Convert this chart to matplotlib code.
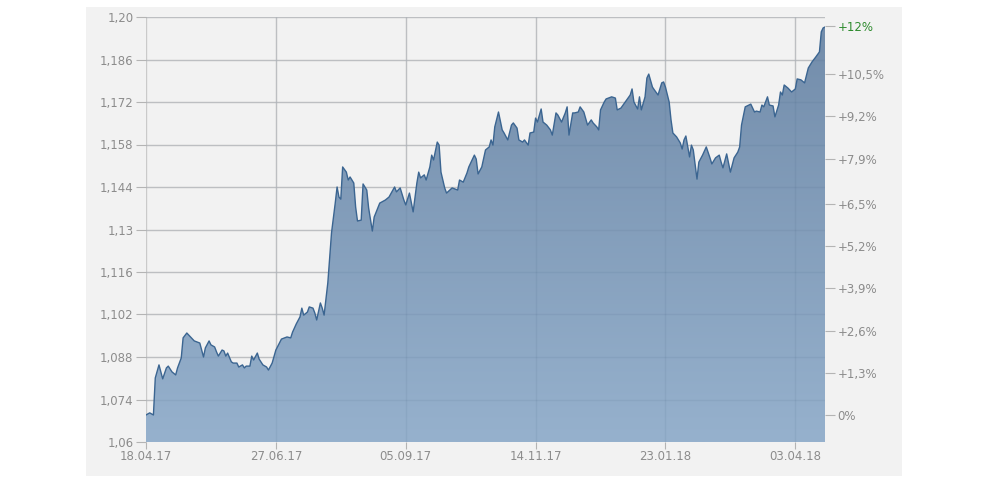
import numpy as np
import pandas as pd
import matplotlib
matplotlib.use("Agg")
import matplotlib.pyplot as plt
import matplotlib.dates as mdates
from matplotlib.patches import Rectangle

# data (days since 18.04.17, price)
start = pd.Timestamp("2017-04-18")
day_offset = [0, 2, 4, 5, 7, 8, 9, 11, 12, 14, 16, 17, 19, 20, 22, 24, 26, 29, 31, 32,
              34, 35, 37, 38, 39, 41, 42, 43, 44, 46, 47, 49, 50, 52, 53, 54, 56, 57, 58, 60,
              61, 63, 65, 66, 68, 70, 73, 76, 78, 79, 81, 83, 84, 85, 87, 88, 90, 91, 92, 94,
              95, 96, 98, 100, 102, 103, 104, 105, 106, 108, 109, 110, 112, 113, 114, 116, 117, 119, 120, 122,
              123, 126, 129, 131, 134, 135, 137, 139, 140, 142, 144, 146, 147, 148, 150, 151, 153, 154, 155, 157,
              158, 159, 161, 162, 165, 168, 169, 171, 173, 174, 177, 178, 179, 181, 183, 185, 186, 187, 188, 190,
              192, 193, 195, 197, 198, 200, 201, 203, 204, 206, 207, 209, 210, 211, 213, 214, 216, 218, 219, 221,
              222, 224, 226, 227, 228, 230, 231, 233, 234, 236, 238, 240, 241, 243, 244, 245, 247, 248, 251, 253,
              254, 256, 258, 261, 262, 263, 265, 266, 267, 269, 270, 271, 273, 274, 276, 278, 279, 280, 282, 283,
              284, 286, 288, 289, 290, 291, 293, 294, 295, 297, 298, 300, 302, 304, 305, 307, 309, 310, 311, 313,
              315, 317, 319, 320, 321, 323, 326, 328, 329, 331, 332, 333, 335, 336, 338, 339, 341, 342, 343, 344,
              346, 348, 350, 351, 353, 355, 357, 359, 361, 363, 364, 365, 366]
price = [1.0689, 1.0696, 1.0689, 1.0811, 1.0854, 1.0831, 1.0808, 1.0844, 1.0850, 1.0831,
         1.0821, 1.0844, 1.0877, 1.0943, 1.0959, 1.0946, 1.0933, 1.0926, 1.0880, 1.0910,
         1.0933, 1.0920, 1.0913, 1.0897, 1.0883, 1.0903, 1.0900, 1.0883, 1.0893, 1.0864,
         1.0860, 1.0860, 1.0847, 1.0854, 1.0844, 1.0850, 1.0850, 1.0883, 1.0870, 1.0893,
         1.0873, 1.0854, 1.0847, 1.0837, 1.0860, 1.0903, 1.0939, 1.0946, 1.0943, 1.0962,
         1.0989, 1.1012, 1.1041, 1.1018, 1.1028, 1.1045, 1.1041, 1.1025, 1.1002, 1.1058,
         1.1041, 1.1018, 1.1124, 1.1289, 1.1387, 1.1440, 1.1407, 1.1400, 1.1506, 1.1489,
         1.1463, 1.1473, 1.1453, 1.1374, 1.1328, 1.1331, 1.1450, 1.1430, 1.1371, 1.1295,
         1.1341, 1.1387, 1.1397, 1.1407, 1.1440, 1.1424, 1.1437, 1.1397, 1.1381, 1.1420,
         1.1358, 1.1453, 1.1489, 1.1470, 1.1480, 1.1463, 1.1506, 1.1545, 1.1529, 1.1588,
         1.1578, 1.1489, 1.1437, 1.1420, 1.1437, 1.1430, 1.1463, 1.1456, 1.1486, 1.1506,
         1.1545, 1.1532, 1.1483, 1.1506, 1.1562, 1.1572, 1.1595, 1.1578, 1.1638, 1.1687,
         1.1628, 1.1618, 1.1595, 1.1644, 1.1651, 1.1634, 1.1595, 1.1588, 1.1595, 1.1578,
         1.1618, 1.1621, 1.1667, 1.1654, 1.1697, 1.1654, 1.1644, 1.1628, 1.1611, 1.1684,
         1.1677, 1.1654, 1.1684, 1.1704, 1.1611, 1.1684, 1.1684, 1.1687, 1.1704, 1.1687,
         1.1644, 1.1661, 1.1651, 1.1638, 1.1628, 1.1694, 1.1720, 1.1730, 1.1737, 1.1733,
         1.1694, 1.1700, 1.1717, 1.1743, 1.1763, 1.1720, 1.1697, 1.1737, 1.1694, 1.1737,
         1.1799, 1.1812, 1.1769, 1.1760, 1.1743, 1.1783, 1.1786, 1.1769, 1.1720, 1.1661,
         1.1618, 1.1605, 1.1585, 1.1565, 1.1595, 1.1608, 1.1539, 1.1578, 1.1562, 1.1466,
         1.1522, 1.1545, 1.1572, 1.1536, 1.1516, 1.1536, 1.1545, 1.1522, 1.1503, 1.1549,
         1.1489, 1.1536, 1.1555, 1.1572, 1.1644, 1.1704, 1.1713, 1.1687, 1.1690, 1.1687,
         1.1710, 1.1704, 1.1737, 1.1710, 1.1707, 1.1671, 1.1710, 1.1753, 1.1743, 1.1776,
         1.1766, 1.1753, 1.1763, 1.1796, 1.1793, 1.1783, 1.1832, 1.1852, 1.1868, 1.1885,
         1.1951, 1.1964, 1.1967]

date_ticks = ["2017-04-18", "2017-06-27", "2017-09-05", "2017-11-14", "2018-01-23", "2018-04-03"]
date_labels = ["18.04.17", "27.06.17", "05.09.17", "14.11.17", "23.01.18", "03.04.18"]
price_ticks = [1.06, 1.074, 1.088, 1.102, 1.116, 1.13, 1.144, 1.158, 1.172, 1.186, 1.20]
price_labels = ["1,06", "1,074", "1,088", "1,102", "1,116", "1,13", "1,144", "1,158",
                "1,172", "1,186", "1,20"]
pct_ticks = [0, 1.3, 2.6, 3.9, 5.2, 6.5, 7.9, 9.2, 10.5, 12]
pct_labels = ["0%", "+1,3%", "+2,6%", "+3,9%", "+5,2%", "+6,5%", "+7,9%", "+9,2%",
              "+10,5%", "+12%"]

dates = start + pd.to_timedelta(day_offset, unit="D")
x = mdates.date2num(dates.to_pydatetime())
y = np.array(price)
base = price[0]

txt = "#8c8c8c"
grid_c = "#cacaca"

fig = plt.figure(figsize=(10, 5), dpi=100)
fig.patches.append(Rectangle((0.086, 0.048), 0.816, 0.938, transform=fig.transFigure,
                             facecolor="#f2f2f2", edgecolor="none", zorder=-5))
ax = fig.add_axes([0.146, 0.116, 0.679, 0.85])
ax.set_facecolor("none")

ymin, ymax = 1.06, 1.20
ax.set_xlim(x[0], x[-1])
ax.set_ylim(ymin, ymax)

# grid below
for t in price_ticks:
    ax.axhline(t, color=grid_c, lw=1, zorder=0)
tick_x = mdates.date2num(pd.to_datetime(date_ticks).to_pydatetime())
for t in tick_x:
    ax.axvline(t, color=grid_c, lw=1, zorder=0)

# gradient area
poly = ax.fill_between(x, ymin, y, facecolor="none", edgecolor="none")
grad = np.linspace(0, 1, 256).reshape(-1, 1)
top = np.array([0x72, 0x8c, 0xaa]) / 255
bot = np.array([0x96, 0xb1, 0xcd]) / 255
img = top * (1 - grad[..., None]) + bot * grad[..., None]
im = ax.imshow(img, extent=[x[0], x[-1], ymin, ymax], aspect="auto", origin="upper", zorder=1)
im.set_clip_path(poly.get_paths()[0], transform=ax.transData)
ax.plot(x, y, color="#3b6591", lw=1.0, zorder=3)

# faint grid over the area
for t in price_ticks[1:]:
    ax.axhline(t, color="#2c4a6a", lw=1, alpha=0.08, zorder=2)
for t in tick_x[1:]:
    ax.axvline(t, color="#2c4a6a", lw=1, alpha=0.08, zorder=2)

for s in ax.spines.values():
    s.set_visible(False)

ax.set_yticks(price_ticks)
ax.set_yticklabels(price_labels)
ax.set_xticks(tick_x)
ax.set_xticklabels(date_labels)
ax.tick_params(axis="y", length=7, color="#b4b4b4", labelcolor=txt, labelsize=8.5, pad=2)
ax.tick_params(axis="x", length=5, color="#b4b4b4", labelcolor=txt, labelsize=8.5, pad=1)

ax2 = ax.twinx()
ax2.set_ylim(ymin, ymax)
ax2.set_yticks([base * (1 + p / 100) for p in pct_ticks])
ax2.set_yticklabels(pct_labels)
ax2.tick_params(axis="y", length=7, color="#b4b4b4", labelcolor=txt, labelsize=8.5, pad=2)
ax2.get_yticklabels()[-1].set_color("#2e8b2e")
for s in ax2.spines.values():
    s.set_visible(False)

fig.savefig("out.png", dpi=100)
